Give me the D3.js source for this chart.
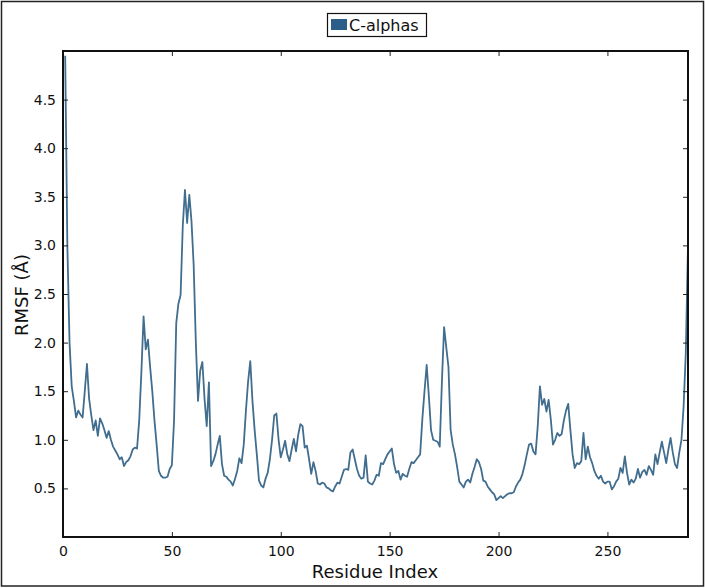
<!DOCTYPE html>
<html>
<head>
<meta charset="utf-8">
<script src="https://cdn.jsdelivr.net/npm/d3@7"></script>
<style>
  body { margin: 0; background: #fff; }
  text { font-family: "DejaVu Sans", sans-serif; }
</style>
</head>
<body>
<script>
'use strict';

const w = 705;
const h = 588;

// RMSF per residue (1..287)
const rmsf = [
  4.95, 3.0, 2.0, 1.55, 1.4, 1.23, 1.3, 1.26, 1.23, 1.5,
  1.78, 1.42, 1.25, 1.1, 1.2, 1.04, 1.22, 1.17, 1.1, 1.02,
  1.09, 1.0, 0.93, 0.89, 0.85, 0.80, 0.82, 0.73, 0.77, 0.79,
  0.83, 0.9, 0.92, 0.91, 1.2, 1.7, 2.27, 1.93, 2.03, 1.75,
  1.5, 1.2, 0.95, 0.68, 0.63, 0.61, 0.61, 0.62, 0.70, 0.74,
  1.2, 2.2, 2.4, 2.49, 3.2, 3.57, 3.23, 3.52, 3.25, 2.8,
  2.0, 1.40, 1.71, 1.80, 1.42, 1.14, 1.59, 0.73, 0.78, 0.85,
  0.95, 1.04, 0.75, 0.63, 0.62, 0.59, 0.57, 0.53, 0.60, 0.68,
  0.81, 0.76, 0.95, 1.3, 1.6, 1.81, 1.4, 1.1, 0.85, 0.58,
  0.53, 0.51, 0.6, 0.66, 0.8, 1.0, 1.25, 1.27, 1.0, 0.82,
  0.9, 0.99, 0.85, 0.78, 0.9, 1.01, 0.88, 1.05, 1.16, 1.14,
  0.92, 0.94, 0.8, 0.65, 0.77, 0.68, 0.55, 0.54, 0.56, 0.55,
  0.51, 0.50, 0.48, 0.47, 0.52, 0.56, 0.55, 0.62, 0.69, 0.70,
  0.69, 0.87, 0.90, 0.80, 0.70, 0.63, 0.60, 0.61, 0.84, 0.57,
  0.55, 0.54, 0.58, 0.64, 0.63, 0.76, 0.75, 0.8, 0.85, 0.88,
  0.91, 0.75, 0.66, 0.68, 0.59, 0.65, 0.63, 0.62, 0.70, 0.77,
  0.76, 0.79, 0.82, 0.85, 1.21, 1.5, 1.77, 1.45, 1.1, 1.0,
  0.99, 0.98, 0.93, 1.6, 2.16, 1.95, 1.75, 1.1, 0.95, 0.85,
  0.72, 0.57, 0.54, 0.51, 0.57, 0.59, 0.56, 0.65, 0.72, 0.80,
  0.77, 0.7, 0.58, 0.57, 0.52, 0.49, 0.46, 0.44, 0.38, 0.40,
  0.42, 0.40, 0.42, 0.44, 0.45, 0.45, 0.46, 0.52, 0.56, 0.59,
  0.65, 0.74, 0.85, 0.95, 0.96, 0.88, 0.85, 1.14, 1.55, 1.36,
  1.42, 1.29, 1.41, 1.21, 0.95, 1.0, 1.07, 1.04, 1.06, 1.2,
  1.3, 1.37, 1.1, 0.85, 0.71, 0.76, 0.75, 0.78, 1.07, 0.80,
  0.93, 0.82, 0.76, 0.68, 0.63, 0.60, 0.63, 0.57, 0.55, 0.57,
  0.57, 0.49, 0.52, 0.57, 0.60, 0.71, 0.66, 0.83, 0.66, 0.54,
  0.59, 0.56, 0.60, 0.70, 0.61, 0.67, 0.69, 0.64, 0.73, 0.69,
  0.64, 0.85, 0.75, 0.87, 0.98, 0.87, 0.76, 0.9, 1.02, 0.87,
  0.75, 0.71, 0.87, 1.0, 1.35, 1.9, 3.0
];
const residues = rmsf.map((v, i) => i + 1);
const xTicks = [0, 50, 100, 150, 200, 250];
const yTicks = [0.5, 1.0, 1.5, 2.0, 2.5, 3.0, 3.5, 4.0, 4.5];
const seriesName = 'C-alphas';

const m = { left: 63, right: 688, top: 51, bottom: 537 };

const svg = d3.select('body').append('svg').attr('width', w).attr('height', h);

svg.append('rect')
  .attr('x', 1.5).attr('y', 1.5)
  .attr('width', w - 3).attr('height', h - 3.5)
  .attr('fill', '#fff').attr('stroke', '#222').attr('stroke-width', 1.5);

const x = d3.scaleLinear().domain([0, 287]).range([m.left, m.right]);
const y = d3.scaleLinear().domain([0, 5]).range([m.bottom, m.top]);

svg.append('clipPath').attr('id', 'clip')
  .append('rect')
  .attr('x', m.left).attr('y', m.top)
  .attr('width', m.right - m.left).attr('height', m.bottom - m.top);

// the line
const line = d3.line()
  .x((d, i) => x(residues[i]))
  .y((d) => y(d));

svg.append('path')
  .datum(rmsf)
  .attr('clip-path', 'url(#clip)')
  .attr('d', line)
  .attr('fill', 'none')
  .attr('stroke', '#416d8e')
  .attr('stroke-width', 1.8)
  .attr('stroke-linejoin', 'round');

// axes, ticks inside on all four sides
const tickLen = 5;
const bottomAxis = svg.append('g')
  .attr('transform', `translate(0,${m.bottom})`)
  .call(d3.axisBottom(x).tickValues(xTicks).tickSizeInner(-tickLen).tickSizeOuter(0).tickPadding(9));
const topAxis = svg.append('g')
  .attr('transform', `translate(0,${m.top})`)
  .call(d3.axisTop(x).tickValues(xTicks).tickSizeInner(-tickLen).tickSizeOuter(0).tickFormat(''));
const leftAxis = svg.append('g')
  .attr('transform', `translate(${m.left},0)`)
  .call(d3.axisLeft(y).tickValues(yTicks).tickSizeInner(-tickLen).tickSizeOuter(0).tickPadding(7).tickFormat(d3.format('.1f')));
const rightAxis = svg.append('g')
  .attr('transform', `translate(${m.right},0)`)
  .call(d3.axisRight(y).tickValues(yTicks).tickSizeInner(-tickLen).tickSizeOuter(0).tickFormat(''));

[bottomAxis, topAxis, leftAxis, rightAxis].forEach((g) => {
  g.select('.domain').remove();
  g.selectAll('.tick line').attr('stroke', '#222').attr('stroke-width', 1);
  g.selectAll('.tick text')
    .attr('font-family', '"DejaVu Sans", sans-serif')
    .attr('font-size', 14)
    .attr('fill', '#111');
});

// plot frame
svg.append('rect')
  .attr('x', m.left).attr('y', m.top)
  .attr('width', m.right - m.left).attr('height', m.bottom - m.top)
  .attr('fill', 'none').attr('stroke', '#111').attr('stroke-width', 2);

// axis labels
svg.append('text')
  .text('Residue Index')
  .attr('x', 375).attr('y', 578)
  .attr('text-anchor', 'middle')
  .attr('font-size', 18)
  .attr('fill', '#111');

svg.append('text')
  .text('RMSF (Å)')
  .attr('transform', 'translate(28,295) rotate(-90)')
  .attr('text-anchor', 'middle')
  .attr('font-size', 18)
  .attr('fill', '#111');

// legend
const lg = svg.append('g');
lg.append('rect')
  .attr('x', 327.5).attr('y', 13.5).attr('width', 99).attr('height', 23)
  .attr('fill', '#fff').attr('stroke', '#111').attr('stroke-width', 1.2);
lg.append('rect')
  .attr('x', 331).attr('y', 19).attr('width', 16).attr('height', 11)
  .attr('fill', '#2b5f8a');
lg.append('text')
  .text(seriesName)
  .attr('x', 349).attr('y', 31)
  .attr('font-size', 16)
  .attr('fill', '#111');
</script>
</body>
</html>
